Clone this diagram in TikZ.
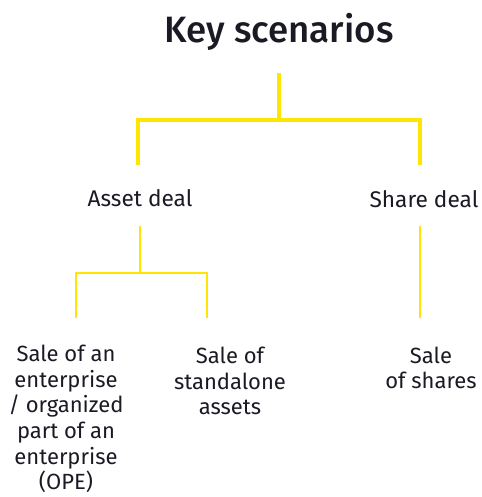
\documentclass[tikz,border=0pt]{standalone}
\usepackage{fontspec}
\setmainfont{Fira Sans}
\newfontfamily\firamed{Fira Sans Medium}
\definecolor{eyyellow}{HTML}{FFE600}
\definecolor{ink}{HTML}{1A1A24}
\begin{document}
\begin{tikzpicture}[x=0.75pt,y=-0.75pt,
  title/.style={text=ink,font=\firamed\fontsize{27.5}{32}\selectfont},
  head/.style={text=ink,font=\fontsize{17}{20}\selectfont},
  leaf/.style={text=ink,align=center,font=\fontsize{16.5}{19.3}\selectfont},
  trunk/.style={draw=eyyellow,line width=2.3pt},
  twig/.style={draw=eyyellow,line width=1.8pt}]
\useasboundingbox (0,0) rectangle (482,497);

% labels
\node[title] (key) at (279,32) {Key scenarios};
\node[head] (asset) at (140,198) {Asset deal};
\node[head] (share) at (424,199) {Share deal};
\node[leaf] (ope) at (66,419) {Sale of an\\enterprise\\/ organized\\part of an\\enterprise\\(OPE)};
\node[leaf] (standalone) at (230,381) {Sale of\\standalone\\assets};
\node[leaf] (shares) at (431,368) {Sale\\of shares};

% junction points of the tree
\coordinate (k0) at (279,73);
\coordinate (k1) at (279,120);
\coordinate (kl) at (138,120);
\coordinate (kr) at (420,120);
\coordinate (al) at (138,165);
\coordinate (sr) at (420,165);
\coordinate (a0) at (140,226);
\coordinate (a1) at (140,273);
\coordinate (a2) at (76,273);
\coordinate (a3) at (207,273);
\coordinate (o0) at (76,318);
\coordinate (t0) at (207,318);
\coordinate (s0) at (420,226);
\coordinate (s1) at (420,318);

% first level
\draw[trunk] (k0) -- (k1);
\draw[trunk] (al) -- (kl) -- (kr) -- (sr);
% asset deal branch
\draw[twig] (a0) -- (a1);
\draw[twig] (o0) -- (a2) -- (a3) -- (t0);
% share deal branch
\draw[twig] (s0) -- (s1);
\end{tikzpicture}
\end{document}
